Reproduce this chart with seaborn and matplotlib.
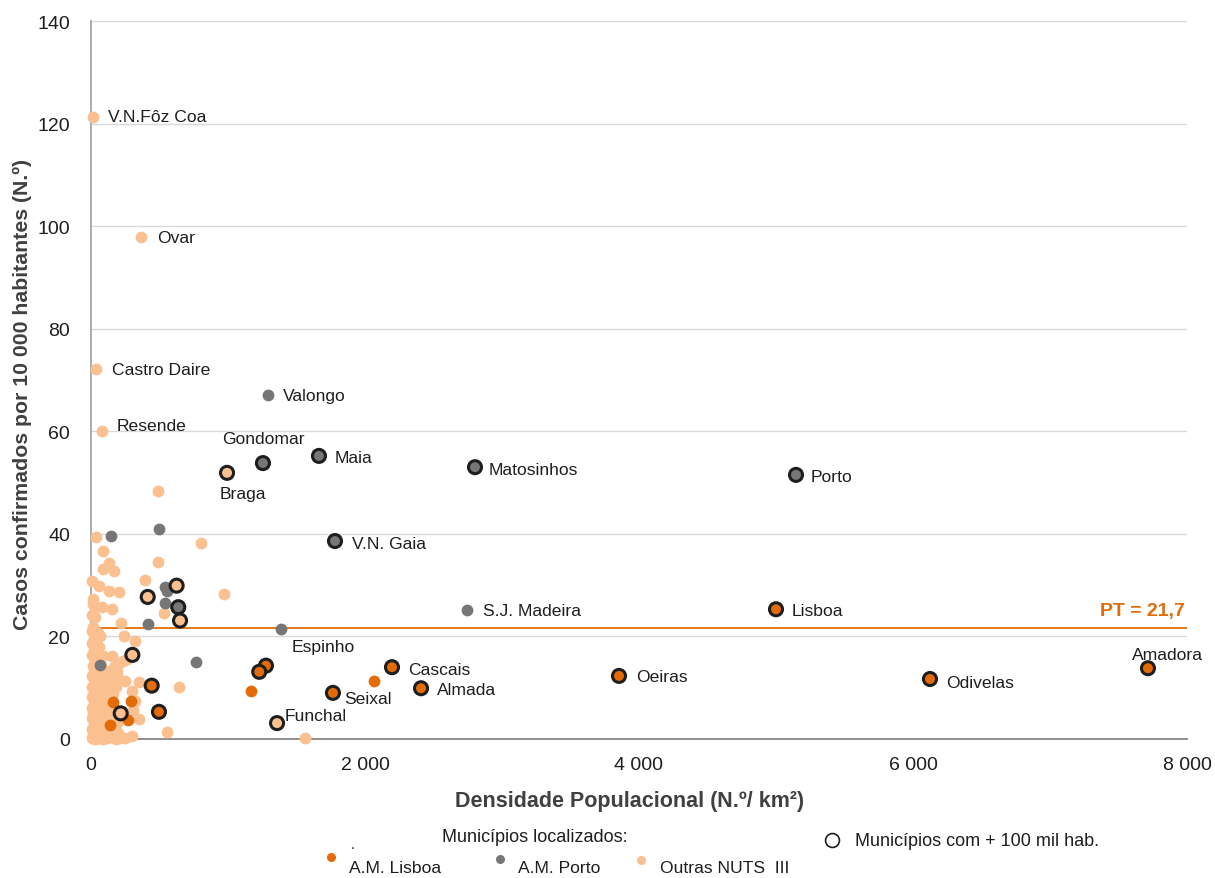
import matplotlib
matplotlib.use("Agg")
import matplotlib.pyplot as plt
import seaborn as sns
import pandas as pd

# ---- data: population density (inhabitants/km²) vs confirmed cases per 10 000 inhabitants
lisboa_x = [5000, 7715, 6124, 3854, 2197, 2409, 1766, 1277, 1228, 443, 496,
            1168, 2068, 161, 292, 139, 268]
lisboa_y = [25.3, 13.8, 11.7, 12.3, 14.0, 9.9, 9.0, 14.3, 13.1, 10.4, 5.3,
            9.4, 11.4, 7.2, 7.5, 2.8, 3.7]
lisboa_big = [1, 1, 1, 1, 1, 1, 1, 1, 1, 1, 1,
              0, 0, 0, 0, 0, 0]

porto_x = [5146, 2803, 1664, 1255, 1781, 637,
           1292, 2745, 1389, 144, 499, 540, 552, 540, 414, 66, 764]
porto_y = [51.5, 53.0, 55.2, 53.8, 38.6, 25.7,
           67.1, 25.2, 21.4, 39.6, 40.9, 29.6, 28.9, 26.5, 22.4, 14.5, 15.1]
porto_big = [1, 1, 1, 1, 1, 1,
             0, 0, 0, 0, 0, 0, 0, 0, 0, 0, 0]

outras_x = [993, 1358, 625, 414, 650, 302, 217,
            15, 365, 36, 80,
            491, 800, 36, 85, 128, 85, 168, 489, 397, 7, 56, 128, 207, 971, 12, 31,
            80, 153, 530, 31, 221, 17, 239, 66, 323, 29, 153, 250, 353, 299, 640,
            323, 347, 299, 555, 1562, 309,
            110, 140, 170, 200, 230, 260, 125, 190,
            5, 30, 60, 90, 120, 150, 180, 210, 250,
            15, 45, 75, 105, 135, 165, 200,
            8, 38, 68, 98, 128, 160,
            20, 50, 80, 110, 190,
            5, 35, 65, 95, 125, 155,
            18, 48, 78, 108, 140,
            8, 38, 68, 98, 128, 170,
            22, 52, 82, 112, 145,
            6, 36, 66, 96, 126, 160,
            20, 50, 80, 110, 140,
            8, 38, 68, 98, 128, 180,
            22, 52, 82, 200,
            10, 40, 70, 95,
            25, 55, 85,
            12, 42, 72,
            28, 58,
            10, 40, 90,
            22, 55,
            8, 38,
            20, 50, 10, 6, 14]
outras_y = [51.9, 3.1, 29.9, 27.7, 23.1, 16.4, 5.0,
            121.3, 97.9, 72.1, 60.1,
            48.3, 38.3, 39.3, 36.6, 34.4, 33.2, 32.8, 34.6, 31.0, 30.9, 29.9, 28.9, 28.6, 28.3, 27.3, 25.7,
            25.7, 25.3, 24.5, 23.7, 22.6, 21.8, 20.1, 20.1, 19.2, 17.5, 16.2, 11.4, 11.2, 9.4, 10.1,
            7.5, 3.9, 0.6, 1.4, 0.1, 5.7,
            12.5, 13.3, 14.0, 14.6, 15.2, 15.6, 11.8, 13.0,
            0.1, 0.0, 0.2, 0.0, 0.1, 0.3, 0.0, 0.2, 0.1,
            1.0, 1.3, 0.8, 1.2, 0.9, 1.4, 1.1,
            2.0, 2.3, 1.8, 2.2, 2.0, 2.5,
            3.1, 2.9, 3.3, 3.0, 3.2,
            4.0, 4.2, 3.8, 4.4, 4.1, 4.5,
            5.0, 5.3, 4.9, 5.5, 5.2,
            6.1, 6.3, 5.9, 6.5, 6.2, 6.0,
            7.0, 7.3, 6.9, 7.5, 7.1,
            8.1, 8.3, 7.9, 8.5, 8.2, 8.7,
            9.0, 9.3, 9.1, 9.6, 9.2,
            10.1, 10.4, 10.0, 10.6, 10.3, 10.2,
            11.0, 11.4, 11.2, 11.8,
            12.2, 12.5, 12.1, 12.8,
            13.3, 13.6, 13.4,
            14.3, 14.7, 14.2,
            15.4, 15.8,
            16.4, 16.8, 16.1,
            17.6, 18.0,
            18.7, 19.0,
            19.8, 20.6, 21.0, 24.2, 26.4]
outras_big = [1] * 7 + [0] * (len(outras_x) - 7)

group_names = ["A.M. Lisboa", "A.M. Porto", "Outras NUTS  III"]
group_colors = ["#E36C09", "#767676", "#FAC090"]

pt_mean = 21.7

labels = ["V.N.Fôz Coa", "Ovar", "Castro Daire", "Resende", "Valongo", "Gondomar",
          "Maia", "Matosinhos", "Porto", "Braga", "V.N. Gaia", "S.J. Madeira",
          "Lisboa", "Espinho", "Cascais", "Almada", "Oeiras", "Odivelas",
          "Amadora", "Seixal", "Funchal"]
label_x = [124, 482, 153, 190, 1401, 956, 1781, 2905, 5255, 942, 1905, 2861,
           5117, 1467, 2314, 2526, 3978, 6241, 7599, 1847, 1416]
label_y = [121.3, 97.7, 72.0, 61.2, 66.9, 58.5, 54.8, 52.6, 51.1, 47.8, 38.2, 25.0,
           25.0, 18.1, 13.6, 9.6, 12.1, 11.1, 16.4, 7.8, 4.5]

x_ticks = [0, 2000, 4000, 6000, 8000]
y_ticks = [0, 20, 40, 60, 80, 100, 120, 140]

# ---- assemble a long table
frames = []
for name, xs, ys, big in [(group_names[0], lisboa_x, lisboa_y, lisboa_big),
                          (group_names[1], porto_x, porto_y, porto_big),
                          (group_names[2], outras_x, outras_y, outras_big)]:
    frames.append(pd.DataFrame({"dens": xs, "casos": ys, "grupo": name, "grande": big}))
df = pd.concat(frames, ignore_index=True)
palette = dict(zip(group_names, group_colors))

sns.set_theme(style="white")
plt.rcParams["font.family"] = ["Liberation Sans", "DejaVu Sans"]

fig = plt.figure(figsize=(12.15, 8.79), dpi=100)
ax = fig.add_axes([91 / 1215, 1 - 740 / 879, (1187 - 91) / 1215, (740 - 22) / 879])

# gridlines and reference line
ax.set_axisbelow(True)
ax.yaxis.grid(True, color="#D9D9D9", linewidth=1.0)
ax.axhline(pt_mean, color="#E36C09", linewidth=1.3, zorder=1.5)

# small markers: outras first, then porto, then lisboa on top
small = df[df["grande"] == 0]
for g in [group_names[2], group_names[1], group_names[0]]:
    sns.scatterplot(data=small[small["grupo"] == g], x="dens", y="casos",
                    color=palette[g], s=72, linewidth=0, ax=ax, zorder=3,
                    legend=False, clip_on=False)

# municipalities above 100 thousand inhabitants: outlined markers
big = df[df["grande"] == 1]
sns.scatterplot(data=big, x="dens", y="casos", hue="grupo", palette=palette,
                s=88, edgecolor="#1E1E1E", linewidth=2.2, ax=ax, zorder=4,
                legend=False, clip_on=False)

for t, lx, ly in zip(labels, label_x, label_y):
    ax.text(lx, ly, t, fontsize=12.6, color="#1E1E1E", va="center", ha="left", zorder=5)

ax.text(7985, pt_mean + 3.4, "PT = 21,7", fontsize=14, fontweight="bold",
        color="#E36C09", ha="right", va="center")

ax.set_xlim(0, 8000)
ax.set_ylim(0, 140)
ax.set_xticks(x_ticks)
ax.set_xticklabels([f"{v:,}".replace(",", " ") for v in x_ticks])
ax.set_yticks(y_ticks)
ax.tick_params(axis="both", labelsize=14, colors="#1E1E1E", length=0)
ax.tick_params(axis="y", pad=15)
ax.tick_params(axis="x", pad=12)

for side in ["top", "right"]:
    ax.spines[side].set_visible(False)
ax.spines["left"].set_color("#A6A6A6")
ax.spines["left"].set_linewidth(1.3)
ax.spines["bottom"].set_color("#868686")
ax.spines["bottom"].set_linewidth(1.3)

ax.set_xlabel("Densidade Populacional (N.º/ km²)", fontsize=15.5, fontweight="bold",
              color="#404040")
ax.xaxis.set_label_coords((630 - 91) / 1096, (740 - 802) / 718)
ax.xaxis.label.set_va("center")
ax.set_ylabel("Casos confirmados por 10 000 habitantes (N.º)", fontsize=15.3,
              fontweight="bold", color="#404040")
ax.yaxis.set_label_coords((22 - 91) / 1096, (740 - 395) / 718)
ax.yaxis.label.set_va("center")

# ---- custom legend below the plot (pixel coordinates overlay)
ov = fig.add_axes([0, 0, 1, 1], zorder=10)
ov.set_xlim(0, 1215)
ov.set_ylim(879, 0)
ov.axis("off")
ov.patch.set_alpha(0)

ov.text(353, 845, ".", fontsize=10, color="#1E1E1E", ha="center", va="center")
ov.text(535, 838, "Municípios localizados:", fontsize=13,
        color="#1E1E1E", ha="center", va="center")
ov.plot([832], [841], marker="o", ms=10, mfc="white", mec="#1E1E1E", mew=1.2)
ov.text(855, 842, "Municípios com + 100 mil hab.", fontsize=13,
        color="#1E1E1E", ha="left", va="center")

for gx, gy, tx, name, col in [(331, 858, 349, group_names[0], group_colors[0]),
                              (500, 860, 518, group_names[1], group_colors[1]),
                              (641, 861, 660, group_names[2], group_colors[2])]:
    ov.plot([gx], [gy], marker="o", ms=6.5, mfc=col, mec=col, mew=0)
    ov.text(tx, 869, name, fontsize=12.6, color="#1E1E1E",
            ha="left", va="center")

fig.savefig("out.png", dpi=100)
